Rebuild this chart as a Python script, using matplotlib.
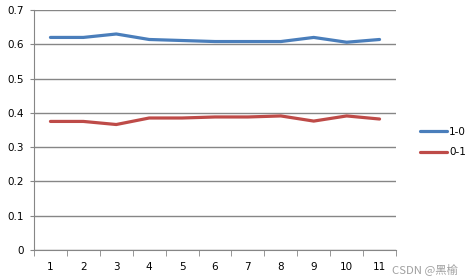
import matplotlib
matplotlib.use("Agg")
from matplotlib import pyplot as plt
import numpy as np

categories = [str(i) for i in range(1, 12)]
series_10 = [0.620, 0.620, 0.630, 0.614, 0.611, 0.608, 0.608, 0.608, 0.620, 0.606, 0.614]
series_01 = [0.375, 0.375, 0.366, 0.385, 0.385, 0.388, 0.388, 0.391, 0.376, 0.391, 0.382]
y_ticks = [0, 0.1, 0.2, 0.3, 0.4, 0.5, 0.6, 0.7]
y_labels = ['0', '0.1', '0.2', '0.3', '0.4', '0.5', '0.6', '0.7']

fig = plt.figure(figsize=(4.73, 2.79), dpi=100)
ax = fig.add_axes([34 / 473, 1 - 250 / 279, 362 / 473, 240 / 279])

x = np.arange(len(categories))
ax.plot(x, series_10, color='#4a7ebb', lw=2.3, label='1-0', solid_capstyle='round')
ax.plot(x, series_01, color='#be4b48', lw=2.3, label='0-1', solid_capstyle='round')

grid_c = '#868686'
ax.set_xlim(-0.5, len(categories) - 0.5)
ax.set_ylim(0, 0.7)
ax.set_yticks(y_ticks)
ax.set_yticklabels(y_labels)
ax.yaxis.grid(True, color=grid_c, lw=1)
ax.set_axisbelow(True)

# category labels centred, tick marks between categories
ax.set_xticks(x)
ax.set_xticklabels(categories)
ax.set_xticks(np.arange(-0.5, len(categories)), minor=True)
ax.tick_params(axis='x', which='major', length=0, pad=9)
ax.tick_params(axis='x', which='minor', length=4, color=grid_c, direction='out')
ax.tick_params(axis='y', length=3, color=grid_c, pad=4)
ax.tick_params(labelsize=7.5, labelcolor='black')

for s in ['top', 'right']:
    ax.spines[s].set_visible(False)
for s in ['left', 'bottom']:
    ax.spines[s].set_color(grid_c)

ax.legend(loc='center left', bbox_to_anchor=(1.04, 0.45), frameon=False,
          fontsize=7.5, handlelength=2.6, handletextpad=0.2, labelspacing=1.0)

fig.text(0.968, 0.037, 'CSDN @黑榆', ha='right', va='center', fontsize=8.2,
         color='#a0a0a0', family=['Noto Sans CJK SC', 'DejaVu Sans'])

fig.savefig('out.png', dpi=100)
